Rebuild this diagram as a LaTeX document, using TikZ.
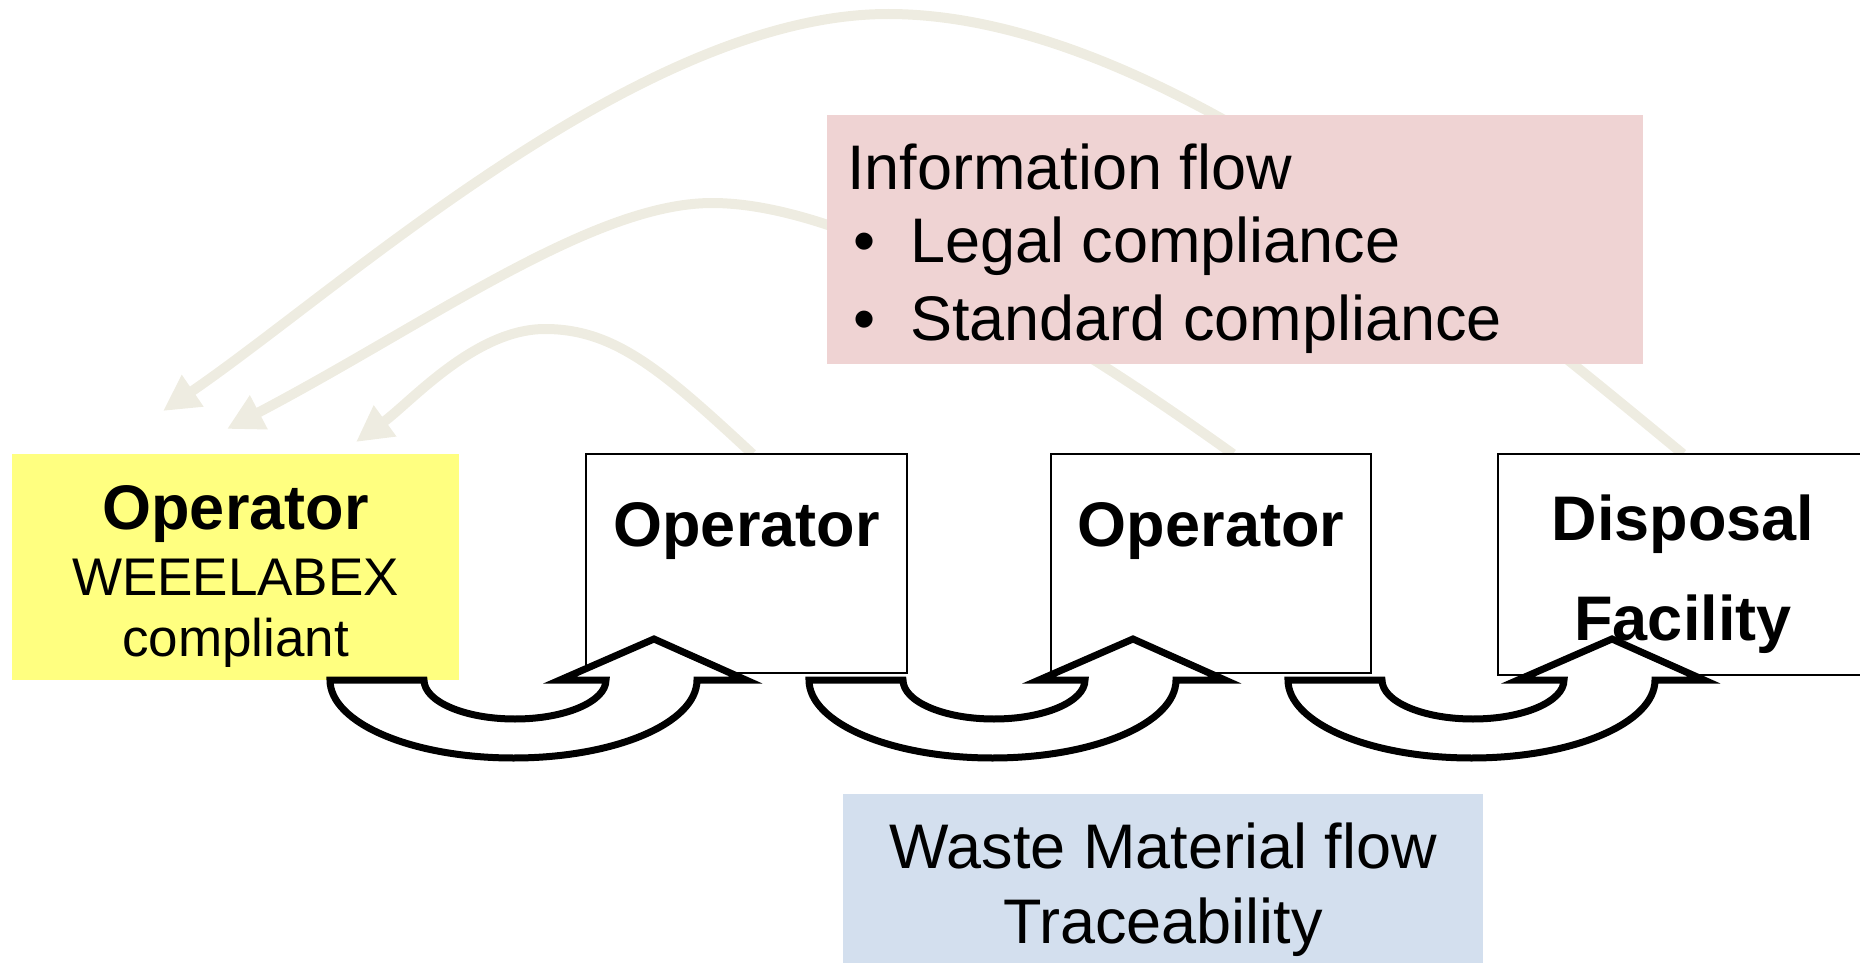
\documentclass[tikz,border=0pt]{standalone}
\usepackage{fontspec}
\setmainfont{Liberation Sans}
\usetikzlibrary{arrows.meta,backgrounds}
\definecolor{infoarrow}{HTML}{EEECE1}
\definecolor{opyellow}{HTML}{FFFF80}
\definecolor{infopink}{HTML}{EFD3D3}
\definecolor{wasteblue}{HTML}{D3DFEE}
\begin{document}
\begin{tikzpicture}[x=0.5pt,y=-0.5pt,
  every node/.style={inner sep=0pt, outer sep=0pt},
  opbox/.style={draw=black, line width=1pt, fill=white},
  bigtxt/.style={font=\fontsize{31.5}{36}\selectfont},
  boldtxt/.style={font=\bfseries\fontsize{31.5}{36}\selectfont},
  smalltxt/.style={font=\fontsize{26.5}{30}\selectfont},
  info/.style={draw=infoarrow, line width=5pt, -{Triangle[length=18pt,width=18pt]}},
  uarrow/.pic={
    \draw[line width=3.5pt, fill=white, line join=miter]
      (0,0) -- (94,0) arc[start angle=180, end angle=0, x radius=91, y radius=39]
      -- (230,0) -- (324,-41) -- (416,0) -- (367,0)
      arc[start angle=0, end angle=180, x radius=183.5, y radius=78] -- cycle;
  }]
\useasboundingbox (0,0) rectangle (1860,963);
\clip (0,0) rectangle (1860,963);

% boxes
\node[fill=opyellow, minimum width=223.5pt, minimum height=113pt] (yel) at (235.5,567) {};
\node[opbox, minimum width=160.5pt, minimum height=109.5pt] (op1) at (746.5,563.5) {};
\node[opbox, minimum width=160pt, minimum height=109.5pt] (op2) at (1211,563.5) {};
\node[opbox, minimum width=185pt, minimum height=110.5pt] (disp) at (1683,564.5) {};
\node[fill=infopink, minimum width=408pt, minimum height=124.5pt] (pink) at (1235,239.5) {};
\node[fill=wasteblue, minimum width=320pt, minimum height=84.5pt] (blue) at (1163,878.5) {};

% free ends of the information arrows
\coordinate (tip1) at (163,411);
\coordinate (tip2) at (227,429);
\coordinate (tip3) at (356,442);

\begin{scope}[on background layer]
  \draw[info] (disp.north) .. controls (1460,270) and (1150,14) .. (888,14)
                           .. controls (640,14) and (340,290) .. (tip1);
  \draw[info] ([xshift=11pt]op2.north) .. controls (1060,330) and (850,203) .. (712,203)
                           .. controls (592,203) and (427,324) .. (tip2);
  \draw[info] ([xshift=3pt]op1.north) .. controls (663,371) and (615,329) .. (545,329)
                           .. controls (475,329) and (411,402) .. (tip3);
\end{scope}

% texts
\node[boldtxt, anchor=base] (yop) at (235.5,529) {Operator};
\node[smalltxt, anchor=base] (yweee) at (235.5,595) {WEEELABEX};
\node[smalltxt, anchor=base] (ycomp) at (235.5,656) {compliant};
\node[boldtxt, anchor=base] (op1t) at (746.5,546) {Operator};
\node[boldtxt, anchor=base] (op2t) at (1211,546) {Operator};
\node[boldtxt, anchor=base] (dispt) at (1683,540) {Disposal};
\node[boldtxt, anchor=base] (facit) at (1683,640) {Facility};

\node[bigtxt, anchor=base west] (infot) at (847,190) {Information flow};
\node[bigtxt, anchor=base west] (bul1) at (853,263) {•};
\node[bigtxt, anchor=base west] (legal) at (910,263) {Legal compliance};
\node[bigtxt, anchor=base west] (bul2) at (853,340) {•};
\node[bigtxt, anchor=base west] (stand) at (910,340) {Standard compliance};

\node[bigtxt, anchor=base] (waste) at (1163,868) {Waste Material flow};
\node[bigtxt, anchor=base] (trace) at (1163,943) {Traceability};

% material flow arrows
\pic at (330,680) {uarrow};
\pic at (809,680) {uarrow};
\pic at (1288,680) {uarrow};
\end{tikzpicture}
\end{document}
